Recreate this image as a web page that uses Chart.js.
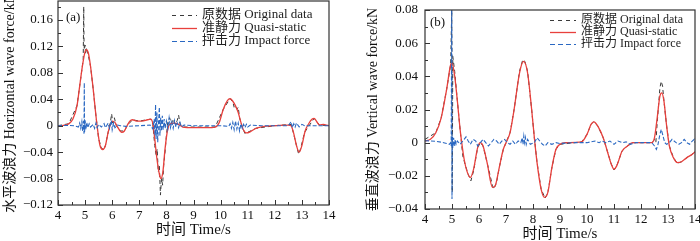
<!DOCTYPE html>
<html>
<head>
<meta charset="utf-8">
<script src="https://cdn.jsdelivr.net/npm/chart.js@4/dist/chart.umd.min.js"></script>
<style>
  html, body { margin: 0; padding: 0; background: #fff; }
  #wrap { position: relative; width: 700px; height: 241px; overflow: hidden; }
  canvas { position: absolute; top: 0; }
</style>
</head>
<body>
<div id="wrap">
  <canvas id="chartA" width="350" height="241" style="left:0"></canvas>
  <canvas id="chartB" width="355" height="241" style="left:345px"></canvas>
</div>
<script>
// ---- data ----
const xTicks = [4, 5, 6, 7, 8, 9, 10, 11, 12, 13, 14];
const aYTicks = [-0.12, -0.08, -0.04, 0, 0.04, 0.08, 0.12, 0.16];
const bYTicks = [-0.04, -0.02, 0, 0.02, 0.04, 0.06, 0.08];

const seriesLabels = ['原数据 Original data', '准静力 Quasi-static', '抨击力 Impact force'];

// (a) horizontal wave force
const aOrigT = [4.0, 4.4, 4.7, 4.85, 4.93, 4.95, 4.96, 4.97, 5.0, 5.02, 5.05, 5.1, 5.2, 5.3, 5.4, 5.5, 5.6, 5.68, 5.75, 5.85, 5.93, 5.98, 6.02, 6.08, 6.15, 6.3, 6.45, 6.55, 6.75, 7.0, 7.42, 7.5, 7.57, 7.62, 7.66, 7.7, 7.74, 7.78, 7.82, 7.86, 7.9, 7.95, 8.0, 8.05, 8.12, 8.18, 8.25, 8.32, 8.4, 8.45, 8.5, 8.6, 9.8, 10.1, 10.35, 10.45, 10.5, 10.55, 10.6, 10.65, 10.7, 10.8, 10.9, 11.0, 11.3, 12.0, 12.6, 12.65, 12.8, 12.88, 12.95, 13.1, 13.45, 13.65, 14.0];
const aOrigV = [0, 0.003, 0.03, 0.075, 0.1, 0.18, 0.128, 0.115, 0.122, 0.108, 0.118, 0.11, 0.09, 0.055, 0.015, -0.02, -0.033, -0.037, -0.03, -0.01, 0.005, 0.018, 0.004, 0.012, 0, -0.008, -0.008, 0, 0.009, 0.007, 0.01, 0.002, -0.03, -0.045, -0.035, -0.07, -0.06, -0.105, -0.08, -0.09, -0.06, -0.04, -0.015, 0.005, 0.012, 0.003, 0.01, 0.002, 0.008, 0.016, 0.003, -0.002, -0.002, 0.025, 0.041, 0.036, 0.028, 0.03, 0.025, 0.028, 0.012, -0.002, -0.012, -0.01, -0.004, 0, 0.002, -0.005, -0.03, -0.043, -0.035, -0.01, 0.011, 0.001, 0];

const aQuasiT = [4.0, 4.2, 4.4, 4.55, 4.7, 4.8, 4.9, 5.0, 5.05, 5.12, 5.2, 5.3, 5.4, 5.48, 5.55, 5.65, 5.75, 5.85, 5.92, 6.0, 6.1, 6.2, 6.35, 6.45, 6.55, 6.65, 6.75, 6.9, 7.1, 7.3, 7.42, 7.5, 7.57, 7.65, 7.75, 7.8, 7.87, 7.95, 8.05, 8.15, 8.3, 8.45, 8.6, 9.0, 9.5, 9.8, 9.95, 10.1, 10.25, 10.35, 10.45, 10.55, 10.65, 10.75, 10.85, 10.95, 11.1, 11.3, 11.6, 12.0, 12.5, 12.6, 12.7, 12.8, 12.9, 13.0, 13.12, 13.25, 13.38, 13.45, 13.55, 13.65, 13.8, 13.9, 14.0];
const aQuasiV = [0, 0.0005, 0.003, 0.01, 0.03, 0.06, 0.09, 0.112, 0.115, 0.11, 0.09, 0.055, 0.015, -0.012, -0.03, -0.036, -0.03, -0.01, 0, 0.007, 0.005, -0.002, -0.01, -0.008, 0, 0.007, 0.009, 0.007, 0.007, 0.009, 0.01, 0.003, -0.02, -0.05, -0.075, -0.08, -0.07, -0.035, -0.005, 0.003, 0.004, 0.002, -0.002, -0.003, -0.003, -0.002, 0.005, 0.025, 0.038, 0.041, 0.037, 0.03, 0.02, 0.005, -0.007, -0.011, -0.009, -0.004, -0.001, 0, 0.001, 0, -0.012, -0.03, -0.04, -0.03, -0.008, 0.003, 0.01, 0.011, 0.006, 0.001, 0.002, 0.001, 0];

const aImpT = [4.0, 4.3, 4.6, 4.75, 4.8, 4.84, 4.88, 4.91, 4.94, 4.96, 4.97, 4.98, 5.0, 5.03, 5.06, 5.1, 5.15, 5.2, 5.3, 5.35, 5.4, 5.45, 5.5, 5.6, 5.7, 5.75, 5.85, 5.9, 5.97, 6.0, 6.05, 6.1, 6.2, 6.3, 6.5, 7.0, 7.4, 7.5, 7.55, 7.58, 7.6, 7.62, 7.65, 7.68, 7.71, 7.74, 7.76, 7.79, 7.82, 7.85, 7.88, 7.92, 7.95, 8.0, 8.05, 8.1, 8.15, 8.2, 8.25, 8.3, 8.35, 8.4, 8.45, 8.5, 8.55, 8.65, 9.0, 10.0, 10.3, 10.35, 10.4, 10.45, 10.5, 10.55, 10.6, 10.65, 10.7, 10.75, 10.8, 10.85, 10.9, 10.95, 11.0, 11.1, 11.5, 12.5, 12.6, 12.65, 12.7, 12.75, 12.8, 12.9, 13.0, 13.1, 14.0];
const aImpV = [0, 0.0005, 0, -0.002, 0.004, -0.004, 0.006, -0.008, 0.007, -0.012, 0.065, -0.01, 0.008, -0.006, 0.005, -0.003, 0.003, -0.002, 0.002, -0.004, 0.004, -0.003, 0.002, -0.002, 0.003, -0.003, 0.004, -0.004, 0.008, -0.006, 0.004, -0.003, 0.001, 0, -0.001, 0, 0.001, -0.005, 0.01, -0.015, 0.032, -0.02, 0.02, -0.025, 0.005, 0.028, -0.015, 0.012, -0.008, 0.015, -0.006, 0.01, -0.004, 0.007, -0.005, 0.012, -0.003, 0.006, -0.004, 0.008, -0.002, 0.004, -0.003, 0.005, -0.002, 0.001, 0, 0, -0.001, 0.003, -0.004, 0.005, -0.006, 0.007, -0.005, 0.004, -0.008, 0.003, -0.004, 0.002, -0.003, 0.002, -0.002, 0.001, 0, 0, 0.006, -0.003, 0.003, -0.002, 0.004, -0.002, 0.002, 0, 0];

// (b) vertical wave force
const bOrigT = [4.0, 4.4, 4.6, 4.8, 4.95, 4.99, 5.0, 5.01, 5.03, 5.1, 5.2, 5.3, 5.4, 5.5, 5.6, 5.7, 5.8, 5.95, 6.05, 6.15, 6.3, 6.5, 6.55, 6.65, 6.75, 6.9, 7.0, 7.15, 7.3, 7.5, 7.62, 7.7, 7.8, 7.95, 8.05, 8.15, 8.3, 8.45, 8.55, 8.7, 8.85, 9.0, 9.8, 10.0, 10.15, 10.25, 10.4, 10.6, 10.75, 10.9, 11.0, 11.1, 11.3, 11.5, 11.7, 12.4, 12.5, 12.55, 12.6, 12.7, 12.75, 12.8, 12.85, 12.95, 13.05, 13.2, 13.35, 13.5, 13.7, 13.9, 14.0];
const bOrigV = [0.002, 0.006, 0.015, 0.032, 0.047, 0.08, 0.05, -0.03, 0.052, 0.043, 0.025, 0.008, -0.008, -0.014, -0.019, -0.023, -0.017, -0.003, 0, -0.002, -0.012, -0.026, -0.028, -0.024, -0.015, -0.004, 0, 0.006, 0.02, 0.043, 0.05, 0.049, 0.043, 0.02, 0.003, -0.012, -0.028, -0.0335, -0.03, -0.015, -0.004, -0.001, 0.0005, 0.005, 0.011, 0.0128, 0.01, 0.003, -0.005, -0.013, -0.0165, -0.014, -0.005, -0.002, 0, 0, 0.002, 0, 0.012, 0.033, 0.037, 0.034, 0.025, 0.01, -0.002, -0.009, -0.0125, -0.0115, -0.009, -0.007, -0.005];

const bQuasiT = [4.0, 4.2, 4.4, 4.6, 4.8, 4.95, 5.0, 5.1, 5.2, 5.3, 5.36, 5.45, 5.55, 5.68, 5.8, 5.95, 6.05, 6.15, 6.3, 6.5, 6.6, 6.75, 6.9, 7.0, 7.15, 7.3, 7.5, 7.65, 7.8, 7.95, 8.05, 8.15, 8.3, 8.43, 8.55, 8.7, 8.85, 9.0, 9.2, 9.8, 10.0, 10.15, 10.25, 10.4, 10.6, 10.75, 10.9, 11.0, 11.1, 11.3, 11.5, 11.7, 12.4, 12.5, 12.6, 12.7, 12.77, 12.85, 12.95, 13.05, 13.2, 13.35, 13.5, 13.7, 13.9, 14.0];
const bQuasiV = [0.001, 0.002, 0.006, 0.015, 0.032, 0.047, 0.048, 0.04, 0.025, 0.008, 0, -0.01, -0.017, -0.021, -0.016, -0.003, 0, -0.002, -0.012, -0.027, -0.026, -0.015, -0.004, 0, 0.006, 0.02, 0.042, 0.049, 0.042, 0.02, 0.003, -0.012, -0.028, -0.033, -0.03, -0.015, -0.004, -0.001, 0, 0.0005, 0.005, 0.011, 0.0125, 0.01, 0.003, -0.005, -0.013, -0.016, -0.014, -0.005, -0.002, 0, 0, 0.003, 0.015, 0.028, 0.03, 0.025, 0.01, -0.002, -0.009, -0.012, -0.0115, -0.009, -0.007, -0.0055];

const bImpT = [4.0, 4.2, 4.4, 4.6, 4.8, 4.9, 4.95, 4.97, 4.99, 5.0, 5.01, 5.03, 5.06, 5.09, 5.12, 5.15, 5.2, 5.3, 5.45, 5.52, 5.6, 5.68, 5.78, 5.88, 5.95, 6.05, 6.15, 6.25, 6.35, 6.45, 6.55, 6.65, 6.75, 6.85, 6.95, 7.05, 7.15, 7.25, 7.35, 7.45, 7.55, 7.6, 7.63, 7.66, 7.69, 7.72, 7.75, 7.8, 7.9, 8.05, 8.15, 8.25, 8.35, 8.45, 8.55, 8.7, 8.85, 9.0, 9.5, 10.0, 10.3, 10.45, 10.55, 10.7, 10.85, 11.0, 11.15, 11.3, 11.45, 11.6, 11.8, 12.4, 12.5, 12.57, 12.63, 12.7, 12.75, 12.8, 12.88, 12.95, 13.05, 13.15, 13.3, 13.4, 13.5, 13.6, 13.7, 13.8, 13.9, 13.97, 14.0];
const bImpV = [0.0012, 0.001, 0.0008, 0.0003, -0.0005, -0.001, 0, -0.002, 0.08, -0.034, 0.004, -0.003, 0.003, -0.002, 0.002, -0.001, 0.001, -0.001, 0.002, 0.0035, 0.001, -0.001, 0.002, 0.001, -0.002, 0, 0.002, 0, -0.002, 0, 0.002, 0.001, -0.001, 0.001, 0.002, 0, -0.001, 0.001, -0.001, 0.001, 0, 0.003, -0.001, 0.004, 0, 0.003, -0.001, 0.002, -0.001, 0, 0.003, 0.001, -0.001, -0.002, 0, -0.001, 0, -0.0005, 0, 0, 0.001, 0, 0.001, 0, 0.001, -0.001, 0.001, 0, 0.0005, -0.001, 0, 0, -0.002, -0.004, -0.001, 0.005, 0.008, 0.005, 0, -0.001, 0, 0.002, 0, -0.001, 0, 0.002, 0, -0.001, 0.001, 0.002, 0];

// ---- helpers ----
const FONT = '"Liberation Serif", "Noto Sans CJK SC", serif';
const COL_ORIG = '#3a3a3a';
const COL_QUASI = '#e8403c';
const COL_IMP = '#2a68c2';

const zip = (t, v) => t.map((x, i) => ({ x: x, y: v[i] }));

function fmtY(v) {
  if (Math.abs(v) < 1e-9) return '0';
  const s = Math.abs(v).toFixed(2);
  return v < 0 ? '\u2212' + s : s;
}

// frame, inward ticks, legend and panel tag
const decor = {
  id: 'decor',
  afterDraw(chart, args, o) {
    const { ctx, chartArea: a, scales: { x, y } } = chart;
    ctx.save();
    ctx.strokeStyle = '#333';
    ctx.lineWidth = 1.2;
    ctx.strokeRect(a.left, a.top, a.right - a.left, a.bottom - a.top);

    ctx.lineWidth = 1;
    ctx.beginPath();
    for (let i = 0; i < o.xTicks.length; i++) {
      const px = Math.round(x.getPixelForValue(o.xTicks[i])) + 0.5;
      ctx.moveTo(px, a.bottom); ctx.lineTo(px, a.bottom - 5);
      if (i < o.xTicks.length - 1) {
        const mx = Math.round(x.getPixelForValue((o.xTicks[i] + o.xTicks[i + 1]) / 2)) + 0.5;
        ctx.moveTo(mx, a.bottom); ctx.lineTo(mx, a.bottom - 3);
      }
    }
    const yt = o.yTicks;
    const step = yt[1] - yt[0];
    for (let i = 0; i < yt.length; i++) {
      const py = Math.round(y.getPixelForValue(yt[i])) + 0.5;
      ctx.moveTo(a.left, py); ctx.lineTo(a.left + 5, py);
      const mv = yt[i] + step / 2;
      if (mv < y.max) {
        const my = Math.round(y.getPixelForValue(mv)) + 0.5;
        ctx.moveTo(a.left, my); ctx.lineTo(a.left + 3, my);
      }
    }
    ctx.stroke();

    // panel tag
    ctx.fillStyle = '#111';
    ctx.font = '13px ' + FONT;
    ctx.textBaseline = 'middle';
    ctx.textAlign = 'left';
    ctx.fillText(o.tag, o.tagX, o.tagY);

    // legend
    ctx.font = o.legFont + 'px ' + FONT;
    chart.data.datasets.forEach((ds, i) => {
      const ly = o.legY + i * o.legGap;
      ctx.strokeStyle = ds.borderColor;
      ctx.lineWidth = ds.borderWidth;
      ctx.setLineDash(ds.legendDash || []);
      ctx.beginPath();
      ctx.moveTo(o.legX, ly + 0.5);
      ctx.lineTo(o.legX + o.legLen, ly + 0.5);
      ctx.stroke();
      ctx.setLineDash([]);
      ctx.fillStyle = '#222';
      ctx.fillText(ds.label, o.legX + o.legLen + 5, ly);
    });
    ctx.restore();
  }
};

function makeChart(id, cfg) {
  const datasets = [
    { label: seriesLabels[0], data: zip(cfg.orig[0], cfg.orig[1]), borderColor: COL_ORIG, borderWidth: 1, borderDash: [4, 3], legendDash: [4, 4], tension: 0, order: 3 },
    { label: seriesLabels[1], data: zip(cfg.quasi[0], cfg.quasi[1]), borderColor: COL_QUASI, borderWidth: 1.3, cubicInterpolationMode: 'monotone', order: 2 },
    { label: seriesLabels[2], data: zip(cfg.imp[0], cfg.imp[1]), borderColor: COL_IMP, borderWidth: 1.1, borderDash: [4, 2], legendDash: [5, 3], tension: 0, order: 1 }
  ];
  return new Chart(document.getElementById(id), {
    type: 'line',
    data: { datasets: datasets },
    options: {
      responsive: false,
      animation: false,
      events: [],
      elements: { point: { radius: 0 } },
      layout: { padding: cfg.padding },
      plugins: {
        legend: { display: false },
        tooltip: { enabled: false },
        decor: cfg.decor
      },
      scales: {
        x: {
          type: 'linear',
          min: 4, max: 14,
          afterBuildTicks: s => { s.ticks = xTicks.map(v => ({ value: v })); },
          afterFit: s => { s.height = cfg.xHeight; s.paddingLeft = 0; s.paddingRight = 0; },
          grid: { display: false, drawTicks: false },
          border: { display: false },
          ticks: { padding: 3, color: '#111', font: { family: FONT, size: 13 }, maxRotation: 0, autoSkip: false },
          title: { display: true, text: '时间 Time/s', color: '#111', font: { family: FONT, size: 15, lineHeight: 1 }, padding: { top: 0, bottom: cfg.xTitlePad } }
        },
        y: {
          min: cfg.yMin, max: cfg.yMax,
          afterBuildTicks: s => { s.ticks = cfg.yTicks.map(v => ({ value: v })); },
          afterFit: s => { s.width = cfg.yWidth; s.paddingTop = 0; s.paddingBottom = 0; },
          grid: { display: false, drawTicks: false },
          border: { display: false },
          ticks: { padding: cfg.yTickPad, color: '#111', font: { family: FONT, size: 13 }, callback: v => fmtY(v) },
          title: { display: true, text: cfg.yTitle, color: '#111', font: { family: FONT, size: 14, lineHeight: 1 }, padding: { top: cfg.yTitlePad, bottom: 0 } }
        }
      }
    },
    plugins: [decor]
  });
}

makeChart('chartA', {
  orig: [aOrigT, aOrigV], quasi: [aQuasiT, aQuasiV], imp: [aImpT, aImpV],
  yMin: -0.12, yMax: 0.1887, yTicks: aYTicks,
  padding: { top: 1, right: 21, bottom: 0, left: 0 },
  xHeight: 36, yWidth: 58, yTickPad: 5, xTitlePad: 3.5, yTitlePad: 3,
  yTitle: '水平波浪力 Horizontal wave force/kN',
  decor: { xTicks: xTicks, yTicks: aYTicks, tag: '(a)', tagX: 66, tagY: 18, legX: 172, legY: 15, legGap: 13, legLen: 25, legFont: 13 }
});

makeChart('chartB', {
  orig: [bOrigT, bOrigV], quasi: [bQuasiT, bQuasiV], imp: [bImpT, bImpV],
  yMin: -0.04, yMax: 0.08, yTicks: bYTicks,
  padding: { top: 10, right: 5, bottom: 0, left: 0 },
  xHeight: 32, yWidth: 80, yTickPad: 7, xTitlePad: -1, yTitlePad: 21,
  yTitle: '垂直波浪力 Vertical wave force/kN',
  decor: { xTicks: xTicks, yTicks: bYTicks, tag: '(b)', tagX: 85, tagY: 23, legX: 205, legY: 20, legGap: 12, legLen: 26, legFont: 12 }
});
</script>
</body>
</html>
